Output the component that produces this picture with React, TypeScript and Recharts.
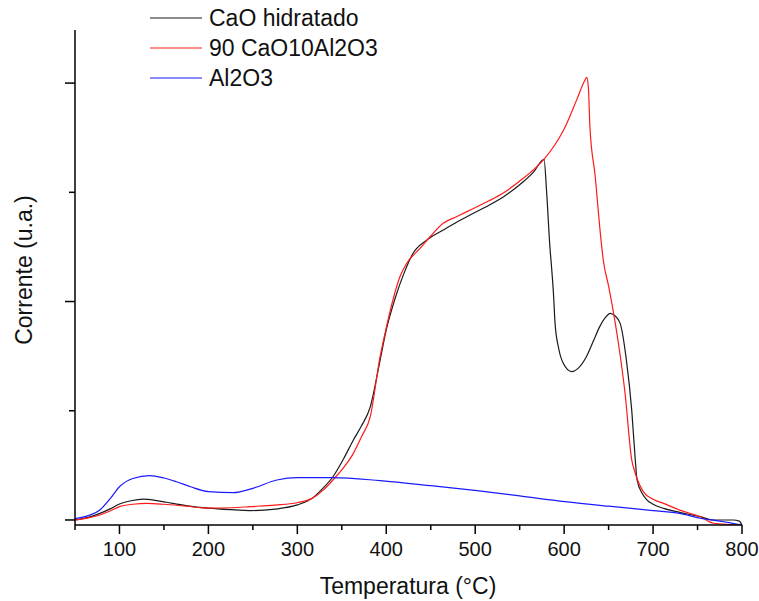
import { LineChart, Line, XAxis, YAxis, Legend } from 'recharts'

// CaO hidratado
const caoTemps = [50, 65, 78, 90, 100, 113, 127, 140, 153, 175, 200, 225, 247, 275, 300, 317, 330, 340, 352, 363, 372, 382, 393, 400, 410, 420, 430, 445, 464, 480, 498, 515, 532, 554, 566, 577.4, 580.4, 584, 586, 588, 589.8, 593.5, 599, 608.5, 616, 625, 633, 640, 646, 652, 657, 663, 670, 676, 680, 682, 688, 693, 700, 712, 730, 753, 768, 790, 797, 800]
const caoValues = [0, 0.012, 0.03, 0.052, 0.073, 0.088, 0.095, 0.09, 0.081, 0.066, 0.054, 0.047, 0.043, 0.05, 0.069, 0.1, 0.15, 0.198, 0.28, 0.366, 0.43, 0.518, 0.73, 0.87, 1.015, 1.13, 1.22, 1.28, 1.327, 1.365, 1.404, 1.44, 1.48, 1.548, 1.595, 1.651, 1.495, 1.25, 1.15, 1.037, 0.9, 0.793, 0.717, 0.679, 0.695, 0.747, 0.82, 0.885, 0.925, 0.946, 0.935, 0.9, 0.732, 0.503, 0.275, 0.183, 0.12, 0.092, 0.072, 0.053, 0.035, 0.015, 0, 0, -0.005, -0.023]

// 90 CaO10Al2O3
const mixTemps = [50, 65, 78, 90, 100, 115, 131, 150, 175, 200, 225, 247, 275, 300, 317, 330, 340, 352, 363, 372, 382, 393, 400, 408, 415, 423, 438, 450, 464, 480, 498, 515, 532, 554, 566, 577, 590, 600, 614, 623.5, 625.4, 627.2, 629, 635, 640, 644, 650, 655, 661, 668.5, 676, 680, 689, 700, 712, 730, 753, 768, 800]
const mixValues = [0, 0.01, 0.023, 0.042, 0.061, 0.072, 0.076, 0.072, 0.063, 0.054, 0.056, 0.061, 0.068, 0.079, 0.1, 0.14, 0.183, 0.24, 0.305, 0.38, 0.473, 0.747, 0.88, 1.015, 1.11, 1.175, 1.243, 1.3, 1.358, 1.39, 1.426, 1.46, 1.498, 1.564, 1.605, 1.65, 1.72, 1.79, 1.922, 2.014, 2.026, 1.983, 1.8, 1.571, 1.342, 1.19, 1.07, 0.961, 0.81, 0.58, 0.275, 0.214, 0.13, 0.095, 0.076, 0.045, 0.015, -0.015, -0.023]

// Al2O3
const aluTemps = [50, 65, 78, 90, 100, 115, 134, 150, 164, 180, 200, 228, 250, 277, 300, 340, 393, 450, 502, 550, 601, 650, 700, 730, 753, 775, 800]
const aluValues = [0.006, 0.02, 0.046, 0.1, 0.152, 0.19, 0.203, 0.192, 0.175, 0.152, 0.13, 0.125, 0.145, 0.183, 0.194, 0.194, 0.18, 0.157, 0.134, 0.11, 0.084, 0.063, 0.043, 0.03, 0.008, -0.005, -0.023]

const xTicks = [50, 100, 150, 200, 250, 300, 350, 400, 450, 500, 550, 600, 650, 700, 750, 800]
const yTicks = [0, 0.5, 1, 1.5, 2]

const series = [
  { name: 'CaO hidratado', temps: caoTemps, values: caoValues, color: '#1a1a1a' },
  { name: '90 CaO10Al2O3', temps: mixTemps, values: mixValues, color: '#ff1a1a' },
  { name: 'Al2O3', temps: aluTemps, values: aluValues, color: '#1a1aff' },
]

const font = '"Liberation Sans", Arial, sans-serif'

function XTick({ x, y, payload }: any) {
  const major = payload.value % 100 === 0
  return (
    <g>
      <line x1={x} x2={x} y1={y} y2={y + (major ? 9 : 5)} stroke="#000" strokeWidth={1.5} />
      {major && (
        <text x={x} y={y + 31} textAnchor="middle" fontSize={20} fontFamily={font} fill="#111">
          {payload.value}
        </text>
      )}
    </g>
  )
}

function YTick({ x, y, payload }: any) {
  const major = payload.value % 1 === 0
  return <line x1={x} x2={x - (major ? 10 : 6)} y1={y} y2={y} stroke="#000" strokeWidth={1.5} />
}

function LegendBox() {
  return (
    <div style={{ fontFamily: font, fontSize: 23, color: '#111' }}>
      {series.map((s) => (
        <div key={s.name} style={{ display: 'flex', alignItems: 'center', height: 30 }}>
          <svg width={52} height={4} style={{ marginRight: 7 }}>
            <line x1={0} x2={52} y1={2} y2={2} stroke={s.color} strokeWidth={1.2} />
          </svg>
          <span>{s.name}</span>
        </div>
      ))}
    </div>
  )
}

export default function App() {
  return (
    <div style={{ position: 'absolute', left: 0, top: 0, width: 759, height: 601, background: '#fff' }}>
      <LineChart width={759} height={601} margin={{ top: 30, right: 17, left: 15, bottom: 26 }}>
        <XAxis
          type="number"
          dataKey="t"
          domain={[50, 800]}
          ticks={xTicks}
          interval={0}
          tickSize={0}
          tickMargin={0}
          tick={<XTick />}
          height={50}
          stroke="#000"
          strokeWidth={1.5}
          allowDuplicatedCategory={false}
          label={() => (
            <text x={408} y={594} textAnchor="middle" fontSize={23} fontFamily={font} fill="#111">
              Temperatura (°C)
            </text>
          )}
        />
        <YAxis
          type="number"
          domain={[-0.023, 2.243]}
          ticks={yTicks}
          interval={0}
          tickSize={0}
          tickMargin={0}
          tick={<YTick />}
          width={60}
          stroke="#000"
          strokeWidth={1.5}
          allowDataOverflow
          label={() => (
            <text
              x={32}
              y={270}
              textAnchor="middle"
              fontSize={23}
              fontFamily={font}
              fill="#111"
              transform="rotate(-90 32 270)"
            >
              Corrente (u.a.)
            </text>
          )}
        />
        <Legend
          layout="vertical"
          align="center"
          verticalAlign="middle"
          content={<LegendBox />}
          wrapperStyle={{ top: 3, left: 150, width: 280, height: 95 }}
        />
        {series.map((s) => (
          <Line
            key={s.name}
            name={s.name}
            data={s.temps.map((t, i) => ({ t, v: s.values[i] }))}
            dataKey="v"
            type="monotone"
            stroke={s.color}
            strokeWidth={1.2}
            dot={false}
            isAnimationActive={false}
          />
        ))}
      </LineChart>
    </div>
  )
}
